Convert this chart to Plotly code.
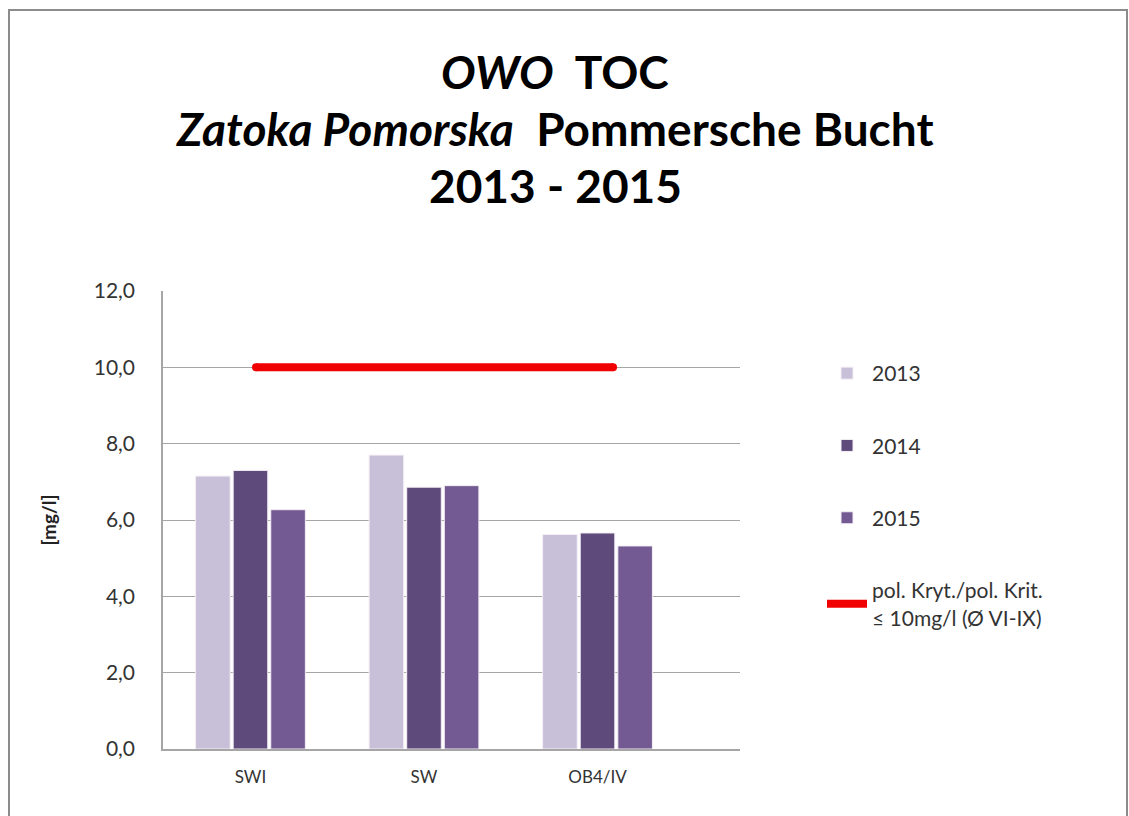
import plotly.graph_objects as go

categories = ["SWI", "SW", "OB4/IV"]
years = ["2013", "2014", "2015"]
values_2013 = [7.15, 7.7, 5.62]
values_2014 = [7.3, 6.86, 5.66]
values_2015 = [6.27, 6.9, 5.32]
threshold = [10.0, 10.0, 10.0]
threshold_label = "pol. Kryt./pol. Krit.<br>≤ 10mg/l (Ø VI-IX)"
y_ticks = [0, 2, 4, 6, 8, 10, 12]
title_lines = ["<i>OWO</i>  TOC", "<i>Zatoka Pomorska</i>  Pommersche Bucht", "2013 - 2015"]

colors = ["#c8bfd8", "#5f4a7c", "#735a93"]
FONT = "Lato"

W, H = 1129, 816
L, R = 163, 1129 - 740
T, B = 291, 816 - 749

fig = go.Figure()
for name, vals, col in zip(years, [values_2013, values_2014, values_2015], colors):
    fig.add_trace(go.Bar(
        x=categories, y=vals, name=name,
        marker=dict(color=col, line=dict(color="#f4eef4", width=1)),
        legendgroup=name,
    ))

# threshold line on its own (hidden) category axis, as in the original chart
fig.add_trace(go.Scatter(
    x=categories, y=threshold, name=threshold_label, mode="lines",
    line=dict(color="#f00000", width=8),
    legendgroup="thr", xaxis="x2",
))
fig.add_trace(go.Scatter(
    x=[categories[0], categories[-1]], y=[threshold[0], threshold[-1]],
    mode="markers", marker=dict(color="#f00000", size=8),
    showlegend=False, hoverinfo="skip", xaxis="x2",
))

plot_w = W - L - R
plot_h = H - T - B

def px(xp):
    return (xp - L) / plot_w

def py(yp):
    return (H - B - yp) / plot_h

title_annotations = [
    dict(
        text=t, x=px(555), y=py(yc), xref="paper", yref="paper",
        xanchor="center", yanchor="middle", showarrow=False,
        font=dict(size=46, family=FONT, color="#000000", weight="bold"),
    )
    for t, yc in zip(title_lines, [72, 128, 185])
]

fig.update_layout(
    width=W, height=H,
    margin=dict(l=L, r=R, t=T, b=B),
    paper_bgcolor="white", plot_bgcolor="white",
    separators=",.",
    barmode="group", bargap=0.35, bargroupgap=0.08,
    font=dict(family=FONT, color="#333333"),
    showlegend=True,
    legend=dict(
        x=px(822), y=py(353), xanchor="left", yanchor="top",
        font=dict(size=21, family=FONT, color="#333333"),
        tracegroupgap=42, itemwidth=40, bgcolor="rgba(0,0,0,0)",
    ),
    xaxis=dict(
        type="category", range=[-0.504, 2.821],
        showgrid=False, showline=True, linecolor="#a6a6a6", linewidth=1.5,
        ticks="", tickfont=dict(size=17, family=FONT, color="#333333"),
        ticklabelstandoff=12,
    ),
    xaxis2=dict(
        type="category", overlaying="x", range=[-0.521, 2.711],
        visible=False, categoryarray=categories,
    ),
    yaxis=dict(
        range=[0, 12], tickvals=y_ticks, tickformat=".1f",
        showgrid=True, gridcolor="#a6a6a6", gridwidth=1.2,
        showline=True, linecolor="#a6a6a6", linewidth=1.5,
        zeroline=False, ticks="",
        tickfont=dict(size=21, family=FONT, color="#333333"),
        ticklabelstandoff=22,
        title=dict(text="<b>[mg/l]</b>", font=dict(size=19, family=FONT, color="#222222"), standoff=32),
    ),
    annotations=title_annotations,
    shapes=[dict(
        type="rect", xref="paper", yref="paper",
        x0=px(9), x1=px(1127), y0=py(830), y1=py(10),
        line=dict(color="#8c8c8c", width=2), fillcolor="rgba(0,0,0,0)", layer="below",
    )],
)

fig.write_html(
    "out.html",
    config={"displayModeBar": False},
    post_script="document.body.style.margin='0';document.body.style.overflow='hidden';",
)
